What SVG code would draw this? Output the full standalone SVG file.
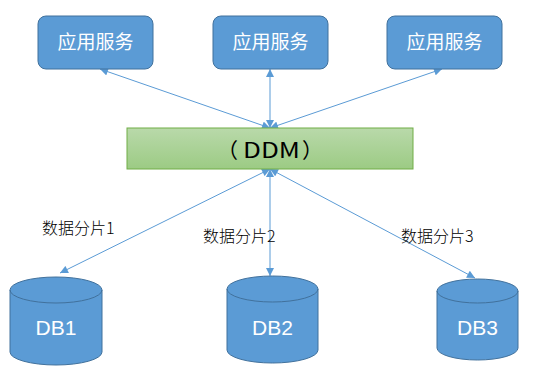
<svg xmlns="http://www.w3.org/2000/svg" width="533" height="371" viewBox="0 0 533 371">
<style>
.svc{fill:#5b9bd5;stroke:#41719c;stroke-width:1}
.svct{fill:#fff;font-family:"Microsoft YaHei","Noto Sans CJK SC",sans-serif;font-size:19px;text-anchor:middle}
.cyl{fill:#5b9bd5;stroke:#41719c;stroke-width:1}
.dbt{fill:#fff;font-family:"Liberation Sans",Arial,sans-serif;font-size:21px;text-anchor:middle}
.lbl{fill:#000;font-family:"Noto Sans CJK SC",sans-serif;font-size:16px;font-weight:300}
.con{stroke:#5b9bd5;stroke-width:1;fill:none;marker-start:url(#a);marker-end:url(#a)}
</style>
<defs>
<linearGradient id="g" x1="0" y1="0" x2="0" y2="1">
<stop offset="0" stop-color="#b9d9aa"/>
<stop offset="1" stop-color="#9ccb84"/>
</linearGradient>
<marker id="a" viewBox="0 0 10 10" refX="10" refY="5" markerWidth="10" markerHeight="8" orient="auto-start-reverse" markerUnits="userSpaceOnUse">
<path d="M0,0 L10,5 L0,10 z" fill="#5b9bd5"/>
</marker>
</defs>
<g id="connectors">
<line class="con" x1="100" y1="69" x2="270" y2="128"/>
<line class="con" x1="270" y1="69" x2="270" y2="128"/>
<line class="con" x1="442" y1="69" x2="270" y2="128"/>
<line class="con" x1="270" y1="169" x2="60" y2="273"/>
<line class="con" x1="270" y1="169" x2="270" y2="276"/>
<line class="con" x1="270" y1="169" x2="475" y2="278"/>
</g>
<g id="svc1"><rect class="svc" x="38" y="16" width="115" height="53" rx="8"/><text class="svct" x="95.5" y="49">应用服务</text></g>
<g id="svc2"><rect class="svc" x="213" y="16" width="115" height="53" rx="8"/><text class="svct" x="270.5" y="49">应用服务</text></g>
<g id="svc3"><rect class="svc" x="387" y="16" width="115" height="53" rx="8"/><text class="svct" x="444.5" y="49">应用服务</text></g>
<g id="ddm"><rect x="127" y="128" width="286" height="41" fill="url(#g)" stroke="#70ad47" stroke-width="1"/><text y="158" font-family="'Noto Sans CJK SC',sans-serif" font-size="21" fill="#000"><tspan x="217">（</tspan><tspan x="243" textLength="57" lengthAdjust="spacingAndGlyphs">DDM</tspan><tspan x="302">）</tspan></text></g>
<g id="db1"><path class="cyl" d="M10,290 A46,13 0 0 1 102,290 L102,352 A46,13 0 0 1 10,352 Z"/><path d="M10,290 A46,13 0 0 0 102,290" fill="none" stroke="#41719c"/><text class="dbt" x="56" y="335">DB1</text></g>
<g id="db2"><path class="cyl" d="M227,289 A45.5,13 0 0 1 318,289 L318,350 A45.5,13 0 0 1 227,350 Z"/><path d="M227,289 A45.5,13 0 0 0 318,289" fill="none" stroke="#41719c"/><text class="dbt" x="272.5" y="335">DB2</text></g>
<g id="db3"><path class="cyl" d="M437,291 A40.5,12 0 0 1 518,291 L518,348 A40.5,12 0 0 1 437,348 Z"/><path d="M437,291 A40.5,12 0 0 0 518,291" fill="none" stroke="#41719c"/><text class="dbt" x="477.5" y="335">DB3</text></g>
<text class="lbl" x="42" y="234">数据分片1</text>
<text class="lbl" x="203" y="242">数据分片2</text>
<text class="lbl" x="401" y="242">数据分片3</text>
</svg>
